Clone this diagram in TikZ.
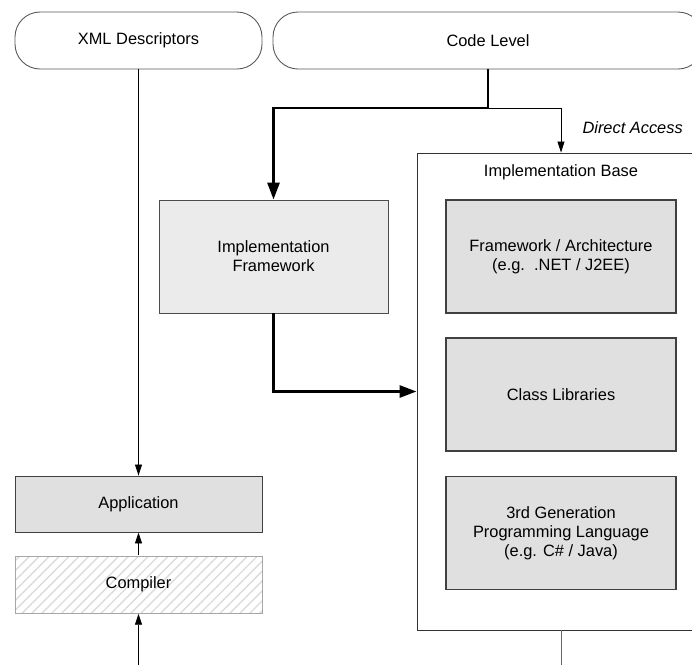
\documentclass[tikz,border=0pt]{standalone}
\usepackage{fontspec}
\setmainfont{Liberation Sans}
\usetikzlibrary{arrows.meta,patterns.meta}
\tikzset{
  pill/.style   ={rectangle, rounded corners=25pt, draw=black!65, fill=white,
                  line width=0.9pt, minimum height=57pt},
  boxy/.style   ={rectangle, draw=black!75, fill=black!12, align=center,
                  line width=1.1pt, minimum width=230pt, minimum height=113pt},
  frame/.style  ={rectangle, draw=black!70, fill=black!8, align=center,
                  line width=0.9pt, minimum width=229pt, minimum height=113pt},
  holder/.style ={rectangle, draw=black!80, fill=white, line width=0.9pt,
                  minimum width=288pt, minimum height=477pt},
  slab/.style   ={rectangle, draw=black!75, fill=black!12, line width=0.9pt,
                  minimum width=247pt, minimum height=56pt},
  hatched/.style={rectangle, draw=black!35, line width=0.9pt,
                  pattern={Lines[angle=45,distance=7pt,line width=1.4pt]},
                  pattern color=black!14, minimum width=247pt, minimum height=57pt},
  link/.style   ={-{Triangle[length=11pt,width=7pt]}, draw=black, line width=0.8pt},
  bold/.style   ={-{Triangle[length=17pt,width=12pt]}, draw=black, line width=2.8pt},
  plain/.style  ={draw=black!60, line width=1pt}
}

\begin{document}
\begin{tikzpicture}[x=1pt,y=-1pt,font=\fontsize{16.4}{19}\selectfont]
\useasboundingbox (0,0) rectangle (692,665);
\clip (0,0) rectangle (692,665);

%% ---- Top levels ----------------------------------------------------
\node[pill, minimum width=247pt] (xml) at (138.5,40.5) {XML Descriptors};
\node[pill, minimum width=430pt] (code) at (488,40.5) {Code Level};

%% ---- Framework and base --------------------------------------------
\node[frame] (impl) at (273.5,256.5) {Implementation\\Framework};
\node[holder] (base) at (561,391.5) {};
\node (baselbl) at (561,172) {Implementation Base};
\node[boxy] (arch) at (561,256.5) {Framework / Architecture\\(e.g.\ \ .NET / J2EE)};
\node[boxy] (libs) at (561,394.5) {Class Libraries};
\node[boxy] (lang) at (561,533) {3rd Generation\\Programming Language\\(e.g. C\# / Java)};

%% ---- Build chain ---------------------------------------------------
\node[slab] (app) at (138.5,504) {Application};
\node[hatched] (comp) at (138.5,584.5) {Compiler};

%% ---- Wiring --------------------------------------------------------
\coordinate (split) at (488,108);
\coordinate (compin) at (138.5,665);
\coordinate (baseout) at (561,665);
\draw[link] (xml.south) -- (app.north);
\draw[link] (split) -| (base.north);
\draw[bold] (code.south -| split) -- (split) -| (impl.north);
\draw[bold] (impl.south) |- (base.west);
\draw[link] (comp.north) -- (app.south);
\draw[link] (compin) -- (comp.south);
\draw[plain] (base.south) -- (baseout);
\node[anchor=west, font=\fontsize{16.4}{19}\selectfont\itshape] (direct)
      at (579,128) {Direct Access};
\end{tikzpicture}
\end{document}
